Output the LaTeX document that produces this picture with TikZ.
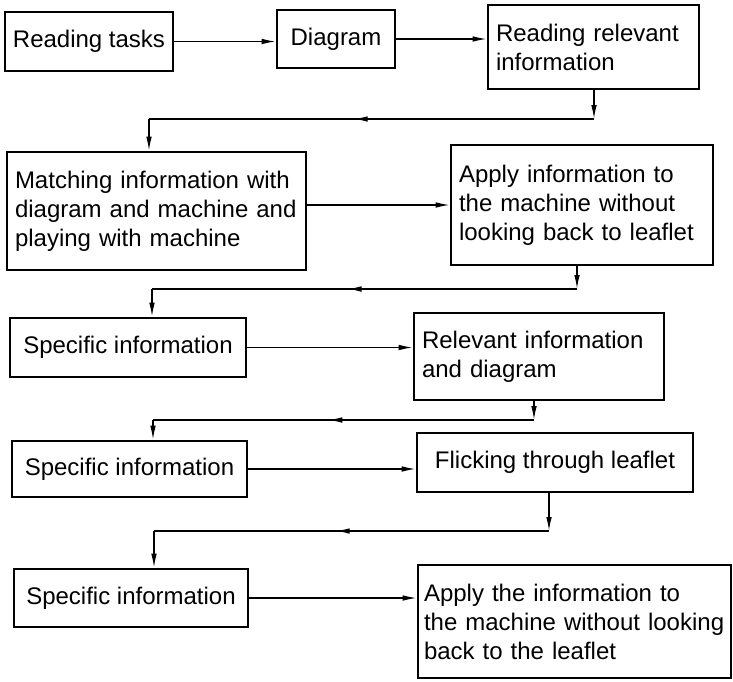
\documentclass[tikz,border=0pt]{standalone}
\usepackage{fontspec}
\setmainfont{Liberation Sans}
\usetikzlibrary{arrows.meta,decorations.markings}

\begin{document}
\begin{tikzpicture}[x=0.5pt, y=-0.5pt, font=\fontsize{12}{14.5}\selectfont]
% Define styles
\tikzstyle{box} = [rectangle, draw=black, line width=1.3pt, inner xsep=4pt, inner ysep=2pt]
\tikzstyle{arrow} = [line width=0.7pt, -{Latex[length=7pt,width=2.8pt]}]
\tikzstyle{midarrow} = [line width=0.7pt, decoration={markings, mark=at position 0.54 with {\arrow{Latex[length=7pt,width=2.8pt]}}}, postaction={decorate}]

\useasboundingbox (0,0) rectangle (733,681);

% Define nodes
\node (read) [box, minimum width=84pt, minimum height=29.5pt] at (89,41.5) {Reading tasks};
\node (diag) [box, minimum width=59pt, minimum height=29pt] at (336,39) {Diagram};
\node (relev) [box, minimum height=42pt, text width=97.5pt, align=left] at (593.5,47) {Reading relevant\\information};
\node (match) [box, minimum height=59pt, text width=141.5pt, align=left] at (156.5,211) {Matching information with\\diagram and machine and\\playing with machine};
\node (apply) [box, minimum height=60pt, text width=123pt, align=left] at (582,205) {Apply information to\\the machine without\\looking back to leaflet};
\node (spec1) [box, minimum width=118pt, minimum height=29.5pt] at (128,347.5) {Specific information};
\node (relinfo) [box, minimum height=43.5pt, text width=117pt, align=left] at (539,356.5) {Relevant information\\and diagram};
\node (spec2) [box, minimum width=117.5pt, minimum height=28pt] at (129.5,469) {Specific information};
\node (flick) [box, minimum width=138pt, minimum height=29.5pt] at (555,462.5) {Flicking through leaflet};
\node (spec3) [box, minimum width=117pt, minimum height=29pt] at (131,598) {Specific information};
\node (apply2) [box, inner xsep=3pt, minimum height=56.5pt, text width=150.5pt, align=left] at (574.5,621.5) {Apply the information to\\the machine without looking\\back to the leaflet};

% Bends of the return lines
\coordinate (b1) at (594,119);
\coordinate (b2) at (149,119);
\coordinate (b3) at (577,289);
\coordinate (b4) at (152,289);
\coordinate (b5) at (534,420);
\coordinate (b6) at (153,420);
\coordinate (b7) at (549,531);
\coordinate (b8) at (154,531);

% Draw arrows
\draw [arrow] (read.east) -- (read.east -| diag.west);
\draw [arrow] (diag.east) -- (diag.east -| relev.west);
\draw [arrow] (relev.south -| b1) -- (b1);
\draw [midarrow] (b1) -- (b2);
\draw [arrow] (b2) -- (b2 |- match.north);
\draw [arrow] (match.east |- apply.west) -- (apply.west);
\draw [arrow] (apply.south -| b3) -- (b3);
\draw [midarrow] (b3) -- (b4);
\draw [arrow] (b4) -- (b4 |- spec1.north);
\draw [arrow] (spec1.east) -- (spec1.east -| relinfo.west);
\draw [arrow] (relinfo.south -| b5) -- (b5);
\draw [midarrow] (b5) -- (b6);
\draw [arrow] (b6) -- (b6 |- spec2.north);
\draw [arrow] (spec2.east) -- (spec2.east -| flick.west);
\draw [arrow] (flick.south -| b7) -- (b7);
\draw [midarrow] (b7) -- (b8);
\draw [arrow] (b8) -- (b8 |- spec3.north);
\draw [arrow] (spec3.east) -- (spec3.east -| apply2.west);
\end{tikzpicture}
\end{document}
